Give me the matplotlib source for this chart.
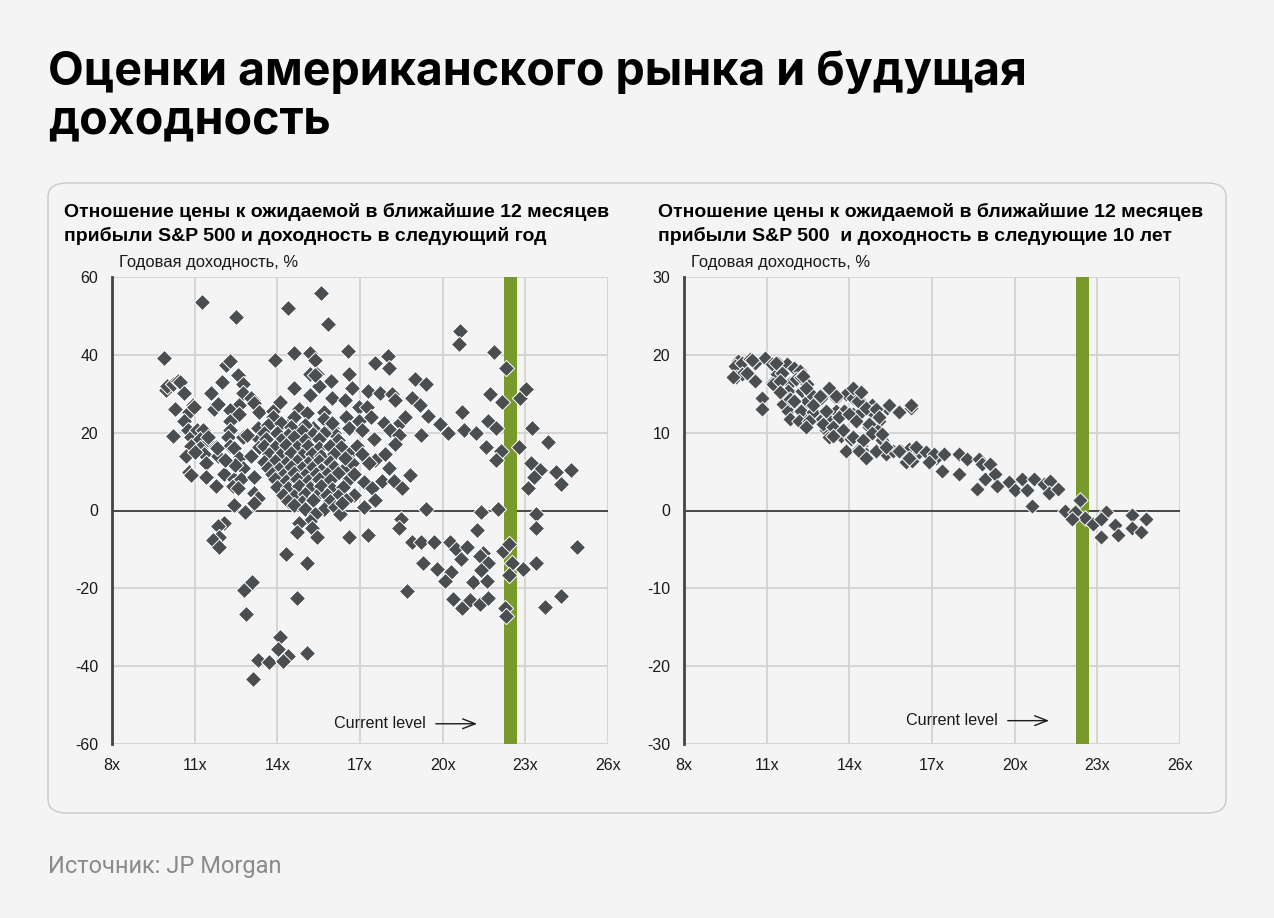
import numpy as np
import matplotlib
matplotlib.use("Agg")
import matplotlib.pyplot as plt
from matplotlib.patches import FancyBboxPatch

plt.rcParams["axes.unicode_minus"] = False

# Точки: (P/E на 12 мес. вперёд, годовая доходность, %)
ONE_YEAR_CHEAP = [
    (9.9, 39.3), (9.95, 31), (10.0, 32), (10.2, 32.6), (10.4, 33.4), (10.45, 33), (10.6, 30.3),
    (10.3, 26.2), (10.93, 27), (10.78, 25.2), (10.6, 23.1), (10.2, 19.2), (10.74, 20.6),
    (10.85, 18.8), (10.85, 16.7), (10.67, 14.1), (10.78, 9.8), (10.85, 9), (11.1, 20.6),
    (11.3, 20.6), (11.2, 18.3), (11.47, 17.5), (11.2, 16), (11.33, 14.6), (11.4, 12.1),
    (11.4, 8.5), (11.77, 16.2), (11.84, 14.1), (11.77, 6.4), (11.26, 53.5), (11.6, 30.3),
    (11.7, 26.2), (11.84, 27.3), (12.0, 32.9), (12.13, 37.3), (12.3, 38.3), (12.5, 49.6),
    (12.57, 34.7), (12.75, 32.6), (12.75, 30.3), (13.1, 28.5), (12.6, 27), (12.3, 25.7),
    (13.05, 28.8), (13.16, 27.5), (13.34, 25.2), (12.3, 23.1), (12.3, 20.8), (12.2, 18.8),
    (12.3, 16.7), (12.75, 18.8), (12.94, 19.3), (13.3, 21.1), (13.34, 18.5), (12.43, 16),
    (12.6, 13.6), (13.05, 14.1), (13.34, 16.2), (12.13, 12.9), (12.06, 9.5), (12.43, 11.6),
    (12.75, 11), (12.43, 8.2), (12.4, 6.4), (12.68, 8.2), (13.16, 8.7), (12.57, 5.7),
    (13.16, 4.6), (13.3, 3.3), (13.16, 1.8), (12.43, 1.3), (12.83, -0.5), (12.06, -3.3),
    (11.84, -4.1), (11.9, -6.7), (11.66, -7.5), (11.88, -9.5), (12.8, -20.3), (13.08, -18.5),
    (12.87, -26.5), (13.1, -43.4), (13.3, -38.3), (13.7, -39), (11.5, 18.8), (12.6, 24.7),
    (12.9, 19.3), (11.8, 16), (10.97, 26.7), (11.0, 15), (12.46, 11.6), (12.1, 12.9),
]

ONE_YEAR_MID = [
    (14.37, 52), (15.57, 56), (15.83, 47.8), (13.93, 38.8), (14.6, 40.4), (15.2, 40.4),
    (15.36, 38.6), (16.56, 41), (17.55, 38), (15.2, 35.2), (15.45, 35), (15.9, 33.4),
    (16.6, 35.2), (14.6, 31.6), (15.2, 29.8), (15.5, 31.9), (16.0, 28.8), (16.7, 31.4),
    (17.3, 30.8), (17.73, 30.3), (14.15, 28), (13.85, 25.5), (14.77, 26.2), (15.7, 25.2),
    (16.45, 28.3), (16.96, 26.5), (17.26, 26.5), (16.5, 24), (16.96, 23.1), (17.4, 24),
    (15.3, 21.3), (15.98, 21.3), (16.05, 19.8), (16.6, 21.3), (17.07, 20.6), (17.5, 18.5),
    (14.1, 27.8), (13.86, 21.8), (14.45, 22.6), (15.06, 25), (15.17, 29.6), (15.36, 34.7),
    (15.94, 33.4),
    # плотное ядро 13.5x-17x
    (13.85, 24), (14.6, 24), (15.7, 23.5), (13.67, 22), (14.15, 22.5), (14.5, 21.5),
    (15.0, 22), (16.0, 22.5), (13.5, 20), (14.0, 20), (14.4, 19.5), (14.9, 20.3),
    (15.3, 19.6), (15.7, 20), (13.6, 18.5), (14.15, 18), (14.6, 18.8), (15.0, 18.2),
    (15.5, 18.5), (16.2, 18), (13.5, 16.5), (13.9, 16.2), (14.3, 16.8), (14.7, 16.2),
    (15.1, 16.5), (15.5, 16), (15.9, 16.6), (16.3, 16.2), (13.7, 14.5), (14.1, 14.2),
    (14.5, 14.8), (14.9, 14.3), (15.24, 14.6), (15.6, 14.1), (16.05, 14.6), (16.6, 14.4),
    (13.5, 12.5), (13.9, 12.8), (14.3, 12.3), (14.7, 12.6), (15.1, 12.2), (15.5, 12.7),
    (15.9, 12.4), (13.67, 11), (14.07, 10.6), (14.5, 11.2), (14.88, 10.8), (15.24, 11),
    (15.6, 10.5), (16.05, 11.1), (16.45, 10.8), (13.8, 9.5), (14.2, 9.2), (14.6, 9.6),
    (15.0, 9.1), (15.4, 9.5), (15.8, 9.3), (16.2, 9.7), (13.9, 8), (14.3, 7.6), (14.7, 8.1),
    (15.1, 7.7), (15.5, 8.2), (15.9, 7.8), (16.6, 8), (14.0, 6), (14.4, 5.7), (14.8, 6.3),
    (15.2, 5.8), (15.6, 6.2), (16.0, 5.6), (16.4, 6.1), (14.2, 4), (14.6, 3.7), (15.0, 4.2),
    (15.4, 3.8), (15.8, 4.1), (16.2, 3.6), (16.8, 4), (14.4, 2.5), (14.9, 2.3), (15.3, 2.7),
    (15.9, 2.4), (16.5, 2.8), (14.6, 1.3), (15.0, 0.5), (15.7, 0.5), (16.1, 1.0),
    # ниже нуля
    (15.36, -0.8), (15.17, -2.6), (16.27, -0.8), (16.6, -6.9), (14.77, -3.3), (14.7, -5.4),
    (15.24, -4.6), (15.43, -6.9), (14.3, -11.1), (15.06, -13.4), (14.73, -22.4),
    (14.1, -32.6), (14.04, -35.5), (14.4, -37.3), (14.2, -38.6), (15.06, -36.5),
    (17.3, -6.2),
    # 16.5x-19x
    (16.9, 16.7), (17.07, 14.6), (16.7, 12.1), (16.45, 13.6), (16.8, 9.5), (17.15, 7.2),
    (17.44, 5.9), (17.8, 7.7), (17.55, 12.9), (17.33, 12.1), (17.9, 14.6), (18.06, 10.8),
    (17.55, 2.6), (17.15, 0.8), (16.34, 1.8), (17.88, 22.4), (18.1, 20.6), (18.46, 22.4),
    (18.65, 24), (18.43, 19.3), (18.28, 17.2), (18.24, 7.7), (18.54, 5.9), (18.8, 9),
    (18.0, 39.8), (18.06, 36.5), (18.17, 30), (18.28, 28.3),
]

ONE_YEAR_EXPENSIVE = [
    (19.0, 33.9), (19.4, 32.4), (18.9, 28.8), (19.16, 27), (19.45, 24.4), (19.9, 22.1),
    (20.2, 19.8), (19.2, 19.3), (18.5, -2.1), (18.43, -4.4), (19.38, 0.3),
    (20.62, 46), (20.58, 42.9), (21.87, 40.6), (22.3, 36.5), (21.7, 30), (22.16, 27.8),
    (22.8, 28.8), (23.04, 31.1), (20.7, 25.4), (20.77, 20.8), (21.2, 20), (21.65, 23.1),
    (21.94, 21.1), (21.57, 16.2), (22.1, 15.4), (21.94, 12.9), (22.78, 16.2), (23.26, 21.1),
    (23.84, 17.7), (23.2, 12.1), (23.55, 10.5), (23.3, 8.7), (23.1, 5.9), (24.1, 10),
    (24.65, 10.3), (24.3, 6.9), (21.4, -0.3), (22.0, 0.3), (23.4, -0.8), (23.4, -4.4),
    (21.25, -4.9), (18.9, -8.2), (19.23, -8), (19.7, -8), (20.26, -8.2), (20.5, -9.8),
    (20.9, -9.3), (21.47, -10.8), (21.36, -11.6), (21.65, -13.4), (22.2, -10.5),
    (22.4, -8.5), (22.5, -13.6), (22.4, -16.5), (22.9, -15), (23.4, -13.4), (24.87, -9.3),
    (19.3, -13.4), (19.8, -15), (20.3, -15.7), (20.07, -18), (20.66, -12.4), (21.1, -18.3),
    (21.4, -15.4), (21.6, -18), (18.7, -20.6), (20.37, -22.7), (20.7, -25), (21.0, -23.1),
    (21.35, -24), (21.65, -22.4), (22.27, -25), (22.3, -27), (23.7, -24.7), (24.3, -21.9),
]

TEN_YEAR_CHEAP = [
    (9.95, 19.2), (9.84, 18.6), (10.1, 19), (10.39, 19.5), (10.57, 19), (10.93, 19.6),
    (11.18, 18.8), (11.4, 19), (11.72, 18.8), (12.0, 18.3), (12.2, 17.9), (9.9, 17.1),
    (10.1, 17.6), (10.3, 17.7), (10.57, 16.7), (11.18, 16.4), (11.36, 17.6), (11.54, 17.7),
    (11.83, 16.4), (11.54, 15.1), (11.76, 15.4), (12.08, 16.9), (12.26, 17.1), (12.3, 15.4),
    (12.45, 16.3), (10.82, 14.4), (10.82, 13.1), (11.58, 13.7), (11.76, 12.8), (11.83, 11.8),
    (12.2, 12.8), (12.45, 11.9), (12.48, 14.1), (10.45, 19.3), (11.35, 18.9), (12.31, 17.3),
    (9.78, 17.1), (11.23, 16.2), (11.47, 16.7), (11.47, 15.2), (11.83, 14.3), (12.01, 14.1),
    (12.25, 12.8), (12.19, 11.5), (12.61, 15.0), (12.43, 15.8),
]

TEN_YEAR_MID = [
    (12.98, 14.5), (13.28, 15.4), (13.52, 14.5), (13.88, 15.0), (14.12, 14.5), (14.42, 13.9),
    (14.84, 13.5), (15.38, 13.2), (15.81, 12.8), (16.23, 13.2), (12.67, 12.6), (12.92, 11.5),
    (13.22, 11.8), (13.52, 12.8), (13.82, 12.8), (14.12, 12.4), (14.42, 12.6), (14.84, 12.6),
    (15.08, 11.5), (13.16, 10.3), (13.28, 9.4), (13.7, 9.6), (14.06, 9.2), (14.42, 8.3),
    (14.72, 10.7), (15.02, 10.3), (13.88, 7.7), (14.36, 7.9), (14.6, 7.3), (14.96, 7.5),
    (15.32, 7.3), (15.2, 9.0), (15.57, 7.7), (15.87, 7.7), (16.17, 7.9), (16.53, 7.5),
    (16.89, 7.3), (17.13, 6.8), (16.05, 6.2), (16.29, 6.4), (16.89, 6.2),
    (13.28, 15.8), (13.52, 14.7), (14.12, 15.8), (14.3, 14.1), (14.42, 15.2), (14.6, 13.2),
    (14.96, 13.0), (15.44, 13.5), (15.81, 12.6), (16.23, 13.5), (12.92, 14.7), (12.67, 13.5),
    (13.16, 12.8), (13.64, 12.0), (14.0, 12.4), (14.24, 11.5), (14.72, 11.1), (15.08, 12.0),
    (12.55, 11.5), (12.43, 10.7), (13.04, 11.1), (13.4, 10.7), (13.76, 10.3), (13.4, 9.6),
    (14.12, 9.4), (14.48, 9.0), (14.84, 10.0), (15.2, 9.8), (14.36, 7.7), (14.96, 7.7),
    (15.32, 8.1), (15.81, 7.7), (16.17, 6.8), (16.41, 8.1), (14.6, 6.8),
]

TEN_YEAR_EXPENSIVE = [
    (16.77, 7.5), (17.07, 7.3), (17.43, 7.3), (16.89, 6.2), (17.37, 5.1), (17.97, 7.3),
    (17.97, 4.7), (18.27, 6.6), (18.7, 6.6), (18.82, 6.0), (19.12, 6.0), (18.64, 2.8),
    (18.94, 4.1), (19.3, 4.7), (19.36, 3.2), (19.78, 3.6), (20.02, 2.6), (20.26, 4.1),
    (20.44, 2.6), (20.69, 4.1), (21.05, 3.4), (21.29, 3.8), (21.23, 2.3), (21.59, 2.8),
    (20.62, 0.6), (21.83, 0.0), (22.19, -0.2), (22.37, 1.3), (22.55, -0.9), (22.85, -1.7),
    (23.15, -3.4), (23.33, -0.2), (23.64, -1.9), (23.76, -3.2), (24.24, -0.6), (24.24, -2.3),
    (24.6, -2.8), (24.78, -1.1), (23.15, -1.1), (22.08, -1.1),
]

CURRENT_PE = 22.45          # текущий уровень (зелёная полоса)
X_TICKS = [8, 11, 14, 17, 20, 23, 26]

BG = "#f4f4f4"
DOT = "#4b4e51"
GREEN = "#779a2b"

fig = plt.figure(figsize=(12.74, 9.18), dpi=100, facecolor=BG)

# заголовок
fig.text(48 / 1274, 1 - 73 / 918, "Оценки американского рынка и будущая",
         fontsize=33.5, fontweight="bold", family="Inter", va="center", color="#000")
fig.text(48 / 1274, 1 - 121 / 918, "доходность",
         fontsize=33.5, fontweight="bold", family="Inter", va="center", color="#000")

# рамка-карточка (под осями)
card = FancyBboxPatch((48 / 1274, 1 - 813 / 918), 1178 / 1274, 630 / 918,
                      boxstyle="round,pad=0,rounding_size=0.015", transform=fig.transFigure,
                      facecolor=BG, edgecolor="#c9c9c9", linewidth=1.0, zorder=-5)
fig.patches.append(card)

fig.text(48 / 1274, 1 - 866 / 918, "Источник: JP Morgan", fontsize=17,
         family="Roboto", color="#8a8a8a", va="center")


def draw_panel(left_px, groups, ylim, ystep, title, title_px, arrow_y, dot_size):
    ax = fig.add_axes([left_px / 1274, 1 - 744 / 918, 496 / 1274, 467 / 918])
    ax.set_facecolor(BG)
    ax.set_xlim(8, 26)
    ax.set_ylim(-ylim, ylim)
    ax.set_xticks(X_TICKS)
    ax.set_xticklabels([f"{t}x" for t in X_TICKS])
    ax.set_yticks(np.arange(-ylim, ylim + 1, ystep))
    ax.grid(True, color="#d2d2d2", linewidth=1.3, zorder=0)
    ax.set_axisbelow(True)
    for side in ["top", "right", "bottom"]:
        ax.spines[side].set_visible(False)
    ax.spines["left"].set_color("#444")
    ax.spines["left"].set_linewidth(2)
    ax.tick_params(length=0, labelsize=11.5, colors="#1a1a1a", pad=10)
    for lab in ax.get_xticklabels() + ax.get_yticklabels():
        lab.set_family("Liberation Sans")
    ax.axhline(0, color="#222", linewidth=1.1, zorder=1)
    ax.axvspan(CURRENT_PE - 0.24, CURRENT_PE + 0.24, color=GREEN, zorder=2, linewidth=0)

    pts = np.array([p for g in groups for p in g])
    ax.scatter(pts[:, 0], pts[:, 1], marker="D", s=dot_size, color=DOT,
               edgecolors="white", linewidths=0.7, zorder=3)

    ax.text(16.05, arrow_y, "Current level", fontsize=11.6, family="Liberation Sans",
            color="#1a1a1a", va="center")
    ax.annotate("", xy=(21.35, arrow_y), xytext=(19.65, arrow_y),
                arrowprops=dict(arrowstyle="->,head_length=0.9,head_width=0.35",
                                color="#1a1a1a", lw=1))

    fig.text(title_px / 1274, 1 - 224 / 918, title, fontsize=14, fontweight="bold",
             family="Liberation Sans", va="center", linespacing=1.45)
    fig.text((left_px + 7) / 1274, 1 - 263 / 918, "Годовая доходность, %", fontsize=11.9,
             family="Liberation Sans", va="center", color="#1a1a1a")
    return ax


draw_panel(112, [ONE_YEAR_CHEAP, ONE_YEAR_MID, ONE_YEAR_EXPENSIVE], 60, 20,
           "Отношение цены к ожидаемой в ближайшие 12 месяцев\n"
           "прибыли S&P 500 и доходность в следующий год", 64, -54.8, 68)
draw_panel(684, [TEN_YEAR_CHEAP, TEN_YEAR_MID, TEN_YEAR_EXPENSIVE], 30, 10,
           "Отношение цены к ожидаемой в ближайшие 12 месяцев\n"
           "прибыли S&P 500  и доходность в следующие 10 лет", 658, -27, 62)

fig.savefig("out.png", dpi=100, facecolor=BG)
